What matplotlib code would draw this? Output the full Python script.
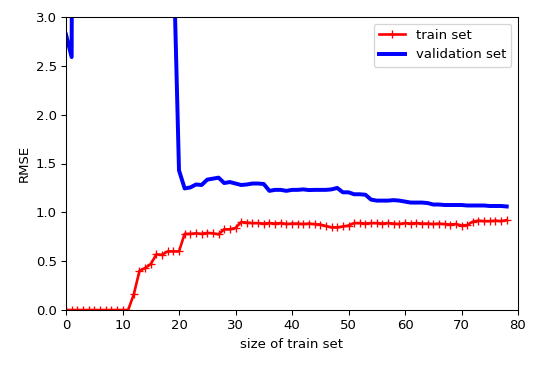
import numpy as np
import matplotlib
matplotlib.use("Agg")
import matplotlib.pyplot as plt

# RMSE per training set size
train_rmse = [0, 0, 0, 0, 0, 0, 0, 0, 0, 0, 0, 0,
              0.16, 0.40, 0.43, 0.47, 0.57, 0.565, 0.60, 0.60, 0.60,
              0.78, 0.78, 0.785, 0.78, 0.79, 0.785, 0.775, 0.826, 0.826, 0.84,
              0.90, 0.895, 0.89, 0.89, 0.885, 0.89, 0.885, 0.89, 0.88, 0.885,
              0.885, 0.88, 0.885, 0.88, 0.875, 0.86, 0.846, 0.845, 0.855, 0.865,
              0.89, 0.89, 0.885, 0.89, 0.89, 0.885, 0.89, 0.885, 0.88, 0.89,
              0.885, 0.89, 0.885, 0.885, 0.88, 0.885, 0.88, 0.875, 0.88, 0.865,
              0.87, 0.905, 0.915, 0.91, 0.91, 0.915, 0.91, 0.92]
val_rmse = [2.82, 2.59,
            25.1, 18.4, 14.2, 11.7, 9.8, 12.5, 10.3, 8.9, 7.6, 9.4, 8.1,
            6.9, 7.3, 6.2, 5.4, 4.8, 4.4, 3.7,
            1.43, 1.245, 1.255, 1.285, 1.28, 1.335, 1.345, 1.355, 1.30, 1.31,
            1.295, 1.28, 1.285, 1.295, 1.295, 1.29, 1.22, 1.23, 1.23, 1.22,
            1.23, 1.23, 1.235, 1.228, 1.23, 1.23, 1.23, 1.235, 1.25, 1.205,
            1.205, 1.185, 1.185, 1.18, 1.13, 1.12, 1.12, 1.12, 1.125, 1.12,
            1.11, 1.10, 1.10, 1.10, 1.095, 1.08, 1.08, 1.075, 1.075, 1.075,
            1.075, 1.07, 1.07, 1.07, 1.07, 1.065, 1.065, 1.065, 1.06]

dpi = 95
fig = plt.figure(figsize=(536 / dpi, 370 / dpi), dpi=dpi)
ax = fig.add_axes([66 / 536, 1 - 310 / 370, 452 / 536, 293 / 370])
ax.plot(train_rmse, "r-+", linewidth=2, label="train set")
ax.plot(val_rmse, "b-", linewidth=3, label="validation set")
ax.legend(loc="upper right")
ax.set_xlabel("size of train set")
ax.set_ylabel("RMSE")
ax.set_xlim(0, 80)
ax.set_ylim(0, 3.0)
fig.savefig("out.png", dpi=dpi)
